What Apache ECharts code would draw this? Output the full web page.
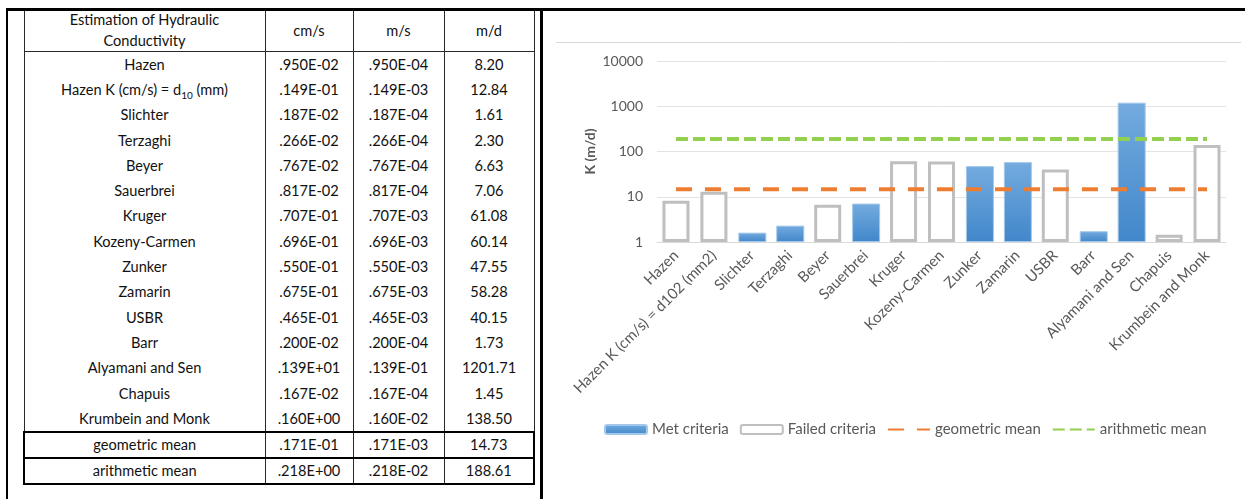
<!DOCTYPE html>
<html>
<head>
<meta charset="utf-8">
<title>Estimation of Hydraulic Conductivity</title>
<script src="https://cdn.jsdelivr.net/npm/echarts@6/dist/echarts.min.js"></script>
<style>
  html, body { margin: 0; padding: 0; background: #fff; }
  body { position: relative; width: 1245px; height: 499px; overflow: hidden; font-family: Lato, "Open Sans", sans-serif; }
  #chart { position: absolute; left: 0; top: 0; width: 1245px; height: 499px; }
  .rule { position: absolute; background: #000; }
  #tbl { position: absolute; left: 23px; top: 9px; width: 510px; border-collapse: collapse; table-layout: fixed;
         font-family: Lato, "Open Sans", sans-serif; font-size: 14.6px; color: #111; background: #fff; }
  #tbl td { padding: 0; text-align: center; vertical-align: middle; height: 25px; line-height: 16px;
            border-left: 1px solid #2a2a2a; border-right: 1px solid #2a2a2a; white-space: nowrap; }
  #tbl tr.hd td { height: 42px; line-height: 21px; border-bottom: 1px solid #2a2a2a; white-space: normal; }
  #tbl tr.data td { height: 25.3px; }
  #tbl tr.mean td { height: 24px; border-top: 2px solid #000; border-bottom: 2px solid #000; }
  #tbl tr.mean td:first-child { border-left: 2px solid #000; }
  #tbl tr.mean td:last-child { border-right: 2px solid #000; }
  #tbl sub { font-size: 10px; line-height: 0; }
</style>
</head>
<body>
<div id="chart"></div>
<table id="tbl">
  <colgroup><col style="width:241px"><col style="width:88px"><col style="width:91px"><col style="width:90px"></colgroup>
  <tbody id="tbody"></tbody>
</table>
<div class="rule" style="left:6px; top:8px; width:1239px; height:3px;"></div>
<div class="rule" style="left:6px; top:8px; width:2px; height:491px;"></div>
<div class="rule" style="left:540px; top:8px; width:3px; height:491px;"></div>
<script>
// Methods as named in the chart axis
const categories = [
  'Hazen', 'Hazen K (cm/s) = d102 (mm2)', 'Slichter', 'Terzaghi', 'Beyer', 'Sauerbrei',
  'Kruger', 'Kozeny-Carmen', 'Zunker', 'Zamarin', 'USBR', 'Barr', 'Alyamani and Sen',
  'Chapuis', 'Krumbein and Monk'
];
// Methods as named in the table (HTML, with subscript)
const tableNames = [
  'Hazen', 'Hazen K (cm/s) = d<sub>10</sub> (mm)', 'Slichter', 'Terzaghi', 'Beyer', 'Sauerbrei',
  'Kruger', 'Kozeny-Carmen', 'Zunker', 'Zamarin', 'USBR', 'Barr', 'Alyamani and Sen',
  'Chapuis', 'Krumbein and Monk'
];
const kCmPerS = ['.950E-02', '.149E-01', '.187E-02', '.266E-02', '.767E-02', '.817E-02', '.707E-01',
  '.696E-01', '.550E-01', '.675E-01', '.465E-01', '.200E-02', '.139E+01', '.167E-02', '.160E+00'];
const kMPerS = ['.950E-04', '.149E-03', '.187E-04', '.266E-04', '.767E-04', '.817E-04', '.707E-03',
  '.696E-03', '.550E-03', '.675E-03', '.465E-03', '.200E-04', '.139E-01', '.167E-04', '.160E-02'];
// Hydraulic conductivity, m/d
const kMPerDay = [8.20, 12.84, 1.61, 2.30, 6.63, 7.06, 61.08, 60.14, 47.55, 58.28, 40.15, 1.73,
  1201.71, 1.45, 138.50];
// Whether each method met the applicability criteria
const metCriteria = [false, false, true, true, false, true, false, false, true, true, false, true,
  true, false, false];
// Summary rows
const meanNames = ['geometric mean', 'arithmetic mean'];
const meanCmPerS = ['.171E-01', '.218E+00'];
const meanMPerS = ['.171E-03', '.218E-02'];
const meanMPerDay = [14.73, 188.61];
const geometricMean = meanMPerDay[0];
const arithmeticMean = meanMPerDay[1];

// ---- table ----
const tbody = document.getElementById('tbody');
let html = '<tr class="hd"><td>Estimation of Hydraulic<br>Conductivity</td><td>cm/s</td><td>m/s</td><td>m/d</td></tr>';
tableNames.forEach((n, i) => {
  html += `<tr class="data"><td>${n}</td><td>${kCmPerS[i]}</td><td>${kMPerS[i]}</td><td>${kMPerDay[i].toFixed(2)}</td></tr>`;
});
meanNames.forEach((n, i) => {
  html += `<tr class="mean"><td>${n}</td><td>${meanCmPerS[i]}</td><td>${meanMPerS[i]}</td><td>${meanMPerDay[i].toFixed(2)}</td></tr>`;
});
tbody.innerHTML = html;

// ---- chart ----
const FONT = 'Lato, "Open Sans", sans-serif';
const TEXT = '#595959';
const metData = kMPerDay.map((v, i) => (metCriteria[i] ? v : '-'));
const failedData = kMPerDay.map((v, i) => (metCriteria[i] ? '-' : v));

const chart = echarts.init(document.getElementById('chart'), null, { renderer: 'canvas' });
chart.setOption({
  animation: false,
  textStyle: { fontFamily: FONT },
  grid: { left: 657, right: 19, top: 61, height: 181, containLabel: false },
  graphic: [{
    type: 'line',
    shape: { x1: 556, y1: 42.5, x2: 1241, y2: 42.5 },
    style: { stroke: '#d9d9d9', lineWidth: 1 }
  }],
  legend: {
    left: 599, top: 417,
    itemWidth: 42, itemHeight: 9, itemGap: 11,
    textStyle: { fontFamily: FONT, fontSize: 15, color: TEXT },
    data: [
      { name: 'Met criteria' },
      { name: 'Failed criteria' },
      { name: 'geometric mean', itemStyle: { opacity: 0 } },
      { name: 'arithmetic mean', itemStyle: { opacity: 0 } }
    ]
  },
  xAxis: {
    type: 'category',
    data: categories,
    axisLine: { lineStyle: { color: '#d9d9d9', width: 1 } },
    axisTick: { show: false },
    axisLabel: { interval: 0, rotate: 45, margin: 11, fontSize: 15, color: TEXT, fontFamily: FONT }
  },
  yAxis: {
    type: 'log',
    logBase: 10,
    min: 1,
    max: 10000,
    name: 'K (m/d)',
    nameLocation: 'middle',
    nameRotate: 90,
    nameGap: 60,
    nameTextStyle: { fontSize: 14, fontWeight: 'bold', color: TEXT, fontFamily: FONT },
    axisLine: { show: false },
    axisTick: { show: false },
    axisLabel: { fontSize: 14, color: TEXT, margin: 14, fontFamily: FONT, formatter: (v) => String(v) },
    splitLine: { lineStyle: { color: '#e3e3e3', width: 1 } }
  },
  series: [
    {
      name: 'Met criteria',
      type: 'bar',
      data: metData,
      barWidth: 28,
      barGap: '-100%',
      itemStyle: {
        color: new echarts.graphic.LinearGradient(0, 0, 0, 1, [
          { offset: 0, color: '#74abdf' },
          { offset: 1, color: '#4187ca' }
        ]),
        borderColor: '#a3c8ea',
        borderWidth: 1
      }
    },
    {
      name: 'Failed criteria',
      type: 'bar',
      data: failedData,
      barWidth: 27,
      barGap: '-100%',
      itemStyle: { color: '#ffffff', borderColor: '#bfbfbf', borderWidth: 3 }
    },
    {
      name: 'geometric mean',
      type: 'line',
      data: categories.map(() => geometricMean),
      symbol: 'none',
      z: 5,
      lineStyle: { color: '#ed7d31', width: 4, type: [16, 13] },
      itemStyle: { color: '#ed7d31' }
    },
    {
      name: 'arithmetic mean',
      type: 'line',
      data: categories.map(() => arithmeticMean),
      symbol: 'none',
      z: 5,
      lineStyle: { color: '#92d050', width: 4, type: [12, 5] },
      itemStyle: { color: '#92d050' }
    }
  ]
});
</script>
</body>
</html>
